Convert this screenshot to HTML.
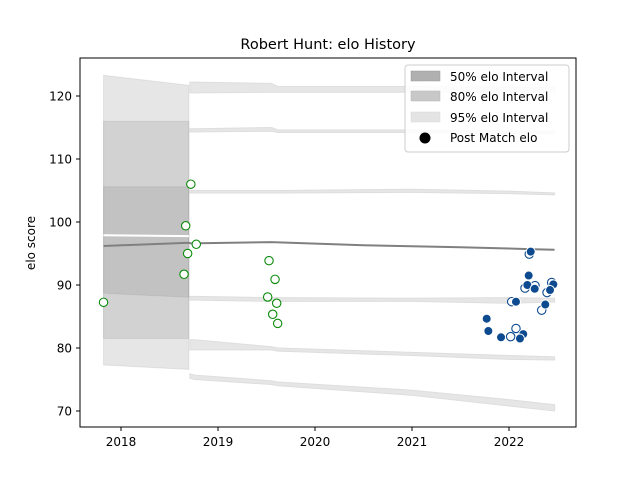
<!DOCTYPE html>
<html><head><meta charset="utf-8"><style>
body{margin:0;background:#fff;}
svg text{font-family:"DejaVu Sans","Liberation Sans",sans-serif;}
</style></head><body>
<svg id="chart" width="640" height="480" viewBox="0 0 640 480">
<rect width="640" height="480" fill="#fff"/>
<g id="bands"></g>
<g id="lines"></g>
<g id="pts"></g>
<rect x="80" y="58" width="496" height="369" fill="none" stroke="#000" stroke-width="1"/>
<g id="axes"></g>
<text x="328" y="49" font-size="14.5" text-anchor="middle">Robert Hunt: elo History</text>
<text transform="translate(35,243) rotate(-90)" font-size="12" text-anchor="middle">elo score</text>
<g>
<rect x="405" y="65" width="164" height="87" rx="3" fill="#fff" fill-opacity="0.85" stroke="#ccc"/>
<rect x="411" y="71" width="29" height="10" fill="#b0b0b0" stroke="#999" stroke-width="0.5"/>
<text x="450" y="81" font-size="12">50% elo Interval</text>
<rect x="411" y="91" width="29" height="10" fill="#c8c8c8" stroke="#b5b5b5" stroke-width="0.5"/>
<text x="450" y="101" font-size="12">80% elo Interval</text>
<rect x="411" y="112" width="29" height="10" fill="#e4e4e4" stroke="#d8d8d8" stroke-width="0.5"/>
<text x="450" y="122" font-size="12">95% elo Interval</text>
<circle cx="425" cy="138" r="5.5" fill="#000"/>
<text x="450" y="142" font-size="12">Post Match elo</text>
</g>
</svg>
<script>
const xTicks=[2018,2019,2020,2021,2022];
const yTicks=[70,80,90,100,110,120];
// full bands over the early period
const earlyDates=[2017.82,2018.70];
const hi95=[123.3,121.7], lo95=[77.3,76.6];
const hi80=[116.0,116.0], lo80=[81.5,81.5];
const hi50=[105.6,105.6], lo50=[88.7,88.05];
// thin strips later
const stripDates=[2018.71,2018.76,2019.55,2019.62,2021.0,2022.0,2022.47];
const s1Top=[122.2,122.2,122.0,121.5,121.5,121.4,121.4], s1Bot=[120.5,120.5,120.6,120.6,120.6,120.6,120.6];
const s2Top=[114.8,114.8,115.0,114.6,114.6,114.4,114.4], s2Bot=[114.3,114.3,114.4,114.2,114.2,114.0,114.0];
const s3Top=[105.0,105.0,105.0,105.0,105.2,104.9,104.6], s3Bot=[104.6,104.6,104.6,104.6,104.7,104.5,104.3];
const s4Top=[88.2,88.2,88.0,88.0,87.9,88.0,87.9], s4Bot=[87.6,87.6,87.4,87.4,87.4,87.1,87.3];
const s5Top=[81.3,81.3,80.2,80.0,79.3,78.8,78.6], s5Bot=[79.7,79.7,79.7,79.5,78.8,78.2,78.1];
const s6Top=[75.9,75.7,74.8,74.6,73.3,71.8,71.0], s6Bot=[75.2,75.0,74.2,74.0,72.5,70.8,70.0];
const meanDates=[2017.82,2018.70,2018.72,2019.55,2020.5,2021.5,2022.0,2022.2,2022.47];
const meanVals=[96.2,96.7,96.6,96.8,96.3,96.0,95.8,95.7,95.6];
const greenDates=[2017.82,2018.65,2018.667,2018.687,2018.72,2018.776,2019.526,2019.588,2019.512,2019.605,2019.564,2019.615];
const greenVals=[87.25,91.7,99.4,95.0,106.0,96.46,93.86,90.9,88.1,87.1,85.35,83.9];
const openBlueDates=[2022.028,2022.072,2022.017,2022.165,2022.268,2022.392,2022.337,2022.44,2022.209];
const openBlueVals=[87.35,83.1,81.8,89.5,89.9,88.8,86.0,90.4,94.9];
const blueDates=[2021.77,2021.787,2021.918,2022.147,2022.113,2022.072,2022.203,2022.189,2022.265,2022.457,2022.374,2022.423,2022.224];
const blueVals=[84.65,82.7,81.7,82.2,81.5,87.35,91.5,90.0,89.4,90.1,86.9,89.2,95.3];

const NS='http://www.w3.org/2000/svg';
const X=t=>121+(t-2018)*97;
const Y=v=>411-(v-70)*6.3;
function mk(tag,attrs,parent){const e=document.createElementNS(NS,tag);for(const k in attrs)e.setAttribute(k,attrs[k]);parent.appendChild(e);return e;}
function band(dates,top,bot,fill,stroke,name){
  let d='M'+dates.map((t,i)=>X(t)+','+Y(top[i])).join('L');
  for(let i=dates.length-1;i>=0;i--)d+='L'+X(dates[i])+','+Y(bot[i]);
  const p=mk('path',{d:d+'Z',fill:fill,stroke:stroke,'stroke-width':1},document.getElementById('bands'));
  
  
}
band(earlyDates,hi95,lo95,'rgba(128,128,128,0.2)','rgba(128,128,128,0.15)','band-95-early');
band(earlyDates,hi80,lo80,'rgba(128,128,128,0.2)','rgba(128,128,128,0.15)','band-80-early');
band(earlyDates,hi50,lo50,'rgba(128,128,128,0.2)','rgba(128,128,128,0.15)','band-50-early');
const sc='#e6e6e6';
band(stripDates,s1Top,s1Bot,sc,'#dedede','band-95-upper-strip');
band(stripDates,s2Top,s2Bot,sc,'#dedede','band-80-upper-strip');
band(stripDates,s3Top,s3Bot,sc,'#dedede','band-50-upper-strip');
band(stripDates,s4Top,s4Bot,sc,'#dedede','band-50-lower-strip');
band(stripDates,s5Top,s5Bot,sc,'#dedede','band-80-lower-strip');
band(stripDates,s6Top,s6Bot,sc,'#dedede','band-95-lower-strip');
const lg=document.getElementById('lines');
const wl=mk('line',{x1:X(2017.82),y1:Y(97.9),x2:X(2018.70),y2:Y(97.75),stroke:'#fff','stroke-width':2},lg);


const ml=mk('polyline',{points:meanDates.map((t,i)=>X(t)+','+Y(meanVals[i])).join(' '),fill:'none',stroke:'#808080','stroke-width':2},lg);


const pg=document.getElementById('pts');
greenDates.forEach((t,i)=>{const c=mk('circle',{cx:X(t),cy:Y(greenVals[i]),r:4.2,fill:'#fff',stroke:'#0a8a0a','stroke-width':1.1},pg);

});
openBlueDates.forEach((t,i)=>{const c=mk('circle',{cx:X(t),cy:Y(openBlueVals[i]),r:4.2,fill:'#fff',stroke:'#0d4a8f','stroke-width':1.1},pg);

});
blueDates.forEach((t,i)=>{const c=mk('circle',{cx:X(t),cy:Y(blueVals[i]),r:4.5,fill:'#0d4a8f',stroke:'#fff','stroke-width':1},pg);

});
const ag=document.getElementById('axes');
xTicks.forEach(t=>{mk('line',{x1:X(t),y1:427,x2:X(t),y2:431,stroke:'#000'},ag);
const tx=mk('text',{x:X(t),y:446,'font-size':12,'text-anchor':'middle'},ag);tx.textContent=t;

});
yTicks.forEach(v=>{mk('line',{x1:76,y1:Y(v),x2:80,y2:Y(v),stroke:'#000'},ag);
const tx=mk('text',{x:72,y:Y(v)+4.5,'font-size':12,'text-anchor':'end'},ag);tx.textContent=v;

});
</script>
</body></html>
